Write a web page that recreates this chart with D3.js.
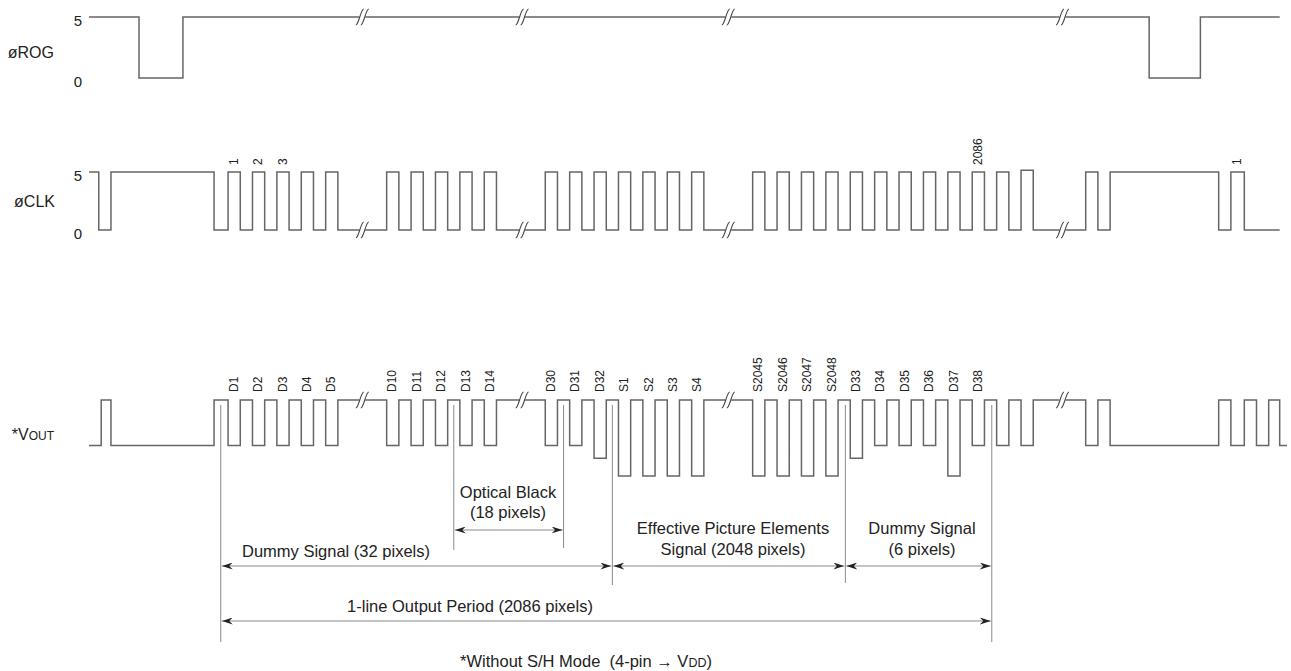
<!DOCTYPE html>
<html><head><meta charset="utf-8">
<script src="https://cdn.jsdelivr.net/npm/d3@7/dist/d3.min.js"></script>
<style>
body{margin:0;background:#fff}
text{font-family:"Liberation Sans",Arial,sans-serif;fill:#222}
</style>
</head><body>
<svg id="chart" width="1291" height="671"></svg>
<script>
// ---------------- DATA (time in half-clock units, levels in volts) ----------------
const timeDomain = [-11.4, 86.8];
const levelTicks = [0, 5];

// øROG : [time, level] step changes
const rogEdges = [[-11.4,5],[-7.3,0],[-3.7,5],[75.5,0],[79.7,5],[86.2,5]];

// øCLK : [time, level] step changes
const clkEdges = [[-11.4,5],[-10.6,0],[-9.6,5],[-1.15,0],
  [0,5],[1,0],[2,5],[3,0],[4,5],[5,0],[6,5],[7,0],[8,5],[9,0],
  [13,5],[14,0],[15,5],[16,0],[17,5],[18,0],[19,5],[20,0],[21,5],[22,0],
  [26,5],[27,0],[28,5],[29,0],[30,5],[31,0],[32,5],[33,0],[34,5],[35,0],[36,5],[37,0],[38,5],[39,0],
  [43,5],[44,0],[45,5],[46,0],[47,5],[48,0],[49,5],[50,0],[51,5],[52,0],[53,5],[54,0],
  [55,5],[56,0],[57,5],[58,0],[59,5],[60,0],[61,5],[62,0],[63,5],[64,0],[65,5.15],[66,0],
  [70.3,5],[71.3,0],[72.3,5],[81.2,0],[82.2,5],[83.3,0],[86.2,0]];

// *VOUT output levels (relative to reset level)
const R = 0, B = -1.8, K = -2.3, S = -3.0;
const voutEdges = [[-11.4,B],[-10.4,R],[-9.6,B],[-1.15,R],
  [0,B],[1,R],[2,B],[3,R],[4,B],[5,R],[6,B],[7,R],[8,B],[9,R],
  [13,B],[14,R],[15,B],[16,R],[17,B],[18,R],[19,B],[20,R],[21,B],[22,R],
  [26,B],[27,R],[28,B],[29,R],[30,K],[31,R],[32,S],[33,R],[34,S],[35,R],[36,S],[37,R],[38,S],[39,R],
  [43,S],[44,R],[45,S],[46,R],[47,S],[48,R],[49,S],[50,R],[51,K],[52,R],
  [53,B],[54,R],[55,B],[56,R],[57,B],[58,R],[59,S],[60,R],[61,B],[62,R],[63,B],[64,R],[65,B],[66,R],
  [70.3,B],[71.3,R],[72.3,B],[81.2,R],[82.2,B],[83.3,R],[84.3,B],[85.3,R],[86.2,B],[86.8,B]];

// time breaks (≈ marks)
const breakTimes = [11, 24.1, 41, 68.4];

// pulse labels
const clkLabelNames = ["1","2","3","2086","1"];
const clkLabelTimes = [0, 2, 4, 61, 82.2];
const voutLabelNames = ["D1","D2","D3","D4","D5","D10","D11","D12","D13","D14","D30","D31","D32",
  "S1","S2","S3","S4","S2045","S2046","S2047","S2048","D33","D34","D35","D36","D37","D38"];
const voutLabelTimes = [0,2,4,6,8,13,15,17,19,21,26,28,30,32,34,36,38,43,45,47,49,51,53,55,57,59,61];

// annotation markers (time) and spans
const markerTimes = [-0.6, 18.5, 27.5, 31.5, 50.6, 62.6];
const spanLabels = [["Optical Black","(18 pixels)"],["Dummy Signal (32 pixels)"],
  ["Effective Picture Elements","Signal (2048 pixels)"],["Dummy Signal","(6 pixels)"],
  ["1-line Output Period (2086 pixels)"]];
const spanFrom = [18.5, -0.6, 31.5, 50.6, -0.6];
const spanTo   = [27.5, 31.5, 50.6, 62.6, 62.6];

// ---------------- LAYOUT ----------------
const svg = d3.select("#chart");
const x = d3.scaleLinear().domain(timeDomain).range([89, 1287]);
const yROG = d3.scaleLinear().domain([0,5]).range([78,17]);
const yCLK = d3.scaleLinear().domain([0,5]).range([230,172]);
const yV = d3.scaleLinear().domain([S,R]).range([476,400]);

const WAVE = "#666";

svg.append("rect").attr("width",1291).attr("height",671).attr("fill","#fff");

// arrow markers
const defs = svg.append("defs");
defs.append("marker").attr("id","ah").attr("viewBox","0 0 11 7")
  .attr("refX",11).attr("refY",3.5).attr("markerWidth",11).attr("markerHeight",7)
  .attr("markerUnits","userSpaceOnUse").attr("orient","auto-start-reverse")
  .append("path").attr("d","M0,0 L11,3.5 L0,7 L3.5,3.5 Z").attr("fill","#222");

function wave(data, y){
  const line = d3.line().x(d=>x(d[0])).y(d=>y(d[1])).curve(d3.curveStepAfter);
  svg.append("path").datum(data).attr("d",line)
    .attr("fill","none").attr("stroke",WAVE).attr("stroke-width",1.5);
  // breaks
  const bis = d3.bisector(d=>d[0]).right;
  breakTimes.forEach(t=>{
    const lv = data[Math.max(0,bis(data,t)-1)][1];
    const cx = x(t), cy = y(lv);
    const g = svg.append("g");
    g.append("rect").attr("x",cx-3).attr("y",cy-2).attr("width",6).attr("height",4).attr("fill","#fff");
    [-2.5,2.5].forEach(dx=>{
      g.append("path")
        .attr("d",`M${cx+dx-4},${cy+8} C${cx+dx-1},${cy+8} ${cx+dx+1},${cy-8} ${cx+dx+4},${cy-8}`)
        .attr("fill","none").attr("stroke","#444").attr("stroke-width",1.1);
    });
  });
}

// axes with level ticks
function levelAxis(y){
  const g = svg.append("g").attr("transform","translate(82,0)")
    .call(d3.axisLeft(y).tickValues(levelTicks).tickSize(0).tickPadding(0).tickFormat(d3.format("d")));
  g.select(".domain").remove();
  g.selectAll("text").attr("font-size",15).attr("dy","0.55em")
    .style("font-family",'"Liberation Sans",Arial,sans-serif').attr("fill","#222");
}
levelAxis(yROG);
levelAxis(yCLK);

// signal names
svg.append("text").attr("x",54).attr("y",52).attr("dy","0.35em").attr("text-anchor","end")
  .attr("font-size",16).text("øROG");
svg.append("text").attr("x",55).attr("y",201).attr("dy","0.35em").attr("text-anchor","end")
  .attr("font-size",16).text("øCLK");
const vt = svg.append("text").attr("x",54).attr("y",434).attr("dy","0.35em").attr("text-anchor","end")
  .attr("font-size",16);
vt.append("tspan").text("*V");
vt.append("tspan").attr("font-size",12).text("OUT");

// annotation vertical lines (draw under waveform)
const markerBottoms = [642, 550, 548, 585, 583, 642];
markerTimes.forEach((t,i)=>{
  svg.append("line").attr("x1",x(t)).attr("x2",x(t)).attr("y1",405).attr("y2",markerBottoms[i])
    .attr("stroke","#8a8a8a").attr("stroke-width",1);
});

wave(rogEdges, yROG);
wave(clkEdges, yCLK);
wave(voutEdges, yV);

// pulse labels
function pulseLabels(names, times, baseY){
  names.forEach((n,i)=>{
    const cx = x(times[i]+0.45);
    svg.append("text").attr("transform",`translate(${cx},${baseY}) rotate(-90)`)
      .attr("dy","0.35em").attr("font-size",12).text(n);
  });
}
pulseLabels(clkLabelNames, clkLabelTimes, 165);
pulseLabels(voutLabelNames, voutLabelTimes, 392);

// spans
const spanRowY = [530, 566, 566, 566, 621];
const spanTextX = [508, 336, 733, 922, 470];
const spanTextY = [[492,512],[551],[528,549],[528,549],[606]];
spanLabels.forEach((lab,i)=>{
  svg.append("line").attr("x1",x(spanFrom[i])+1).attr("x2",x(spanTo[i])-1)
    .attr("y1",spanRowY[i]).attr("y2",spanRowY[i])
    .attr("stroke","#8a8a8a").attr("stroke-width",1.2)
    .attr("marker-start","url(#ah)").attr("marker-end","url(#ah)");
  lab.forEach((s,j)=>{
    svg.append("text").attr("x",spanTextX[i]).attr("y",spanTextY[i][j]).attr("dy","0.35em")
      .attr("text-anchor","middle").attr("font-size",16.5).text(s);
  });
});

// footer
const ft = svg.append("text").attr("x",586).attr("y",661).attr("dy","0.35em")
  .attr("text-anchor","middle").attr("font-size",16.5).attr("xml:space","preserve");
ft.append("tspan").text("*Without S/H Mode\u00a0\u00a0(4-pin \u2192 V");
ft.append("tspan").attr("font-size",12.5).text("DD");
ft.append("tspan").text(")");
</script>
</body></html>
